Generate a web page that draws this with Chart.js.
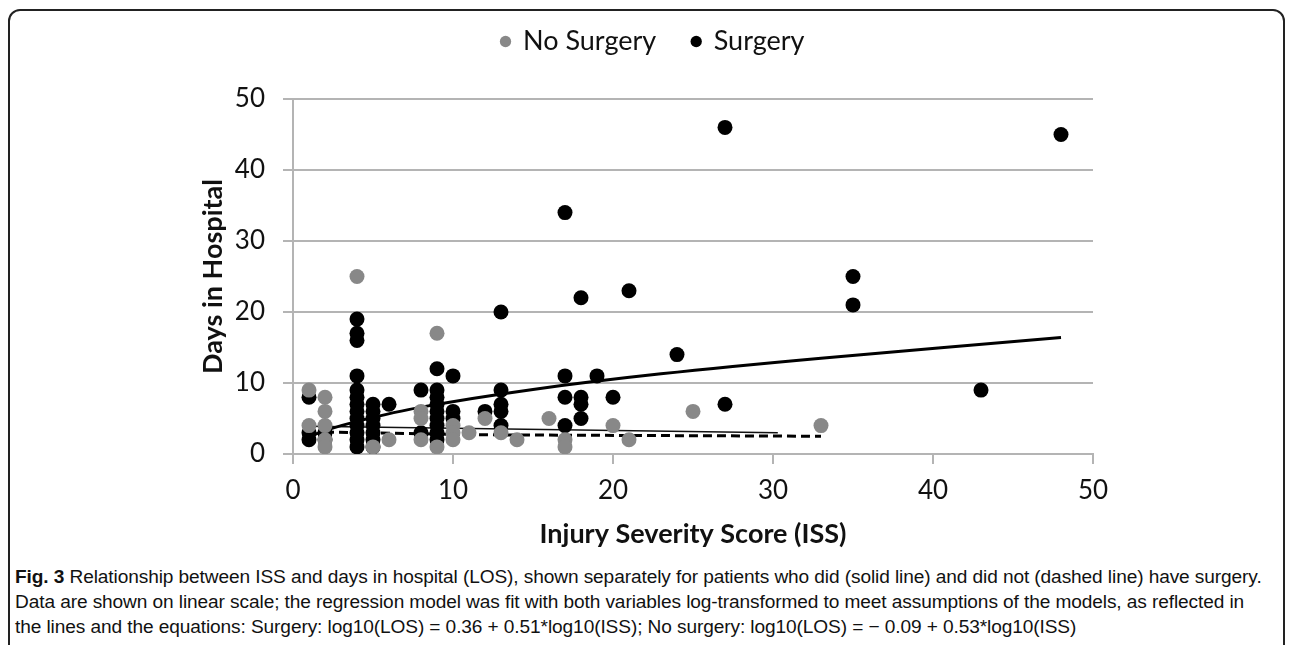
<!DOCTYPE html>
<html>
<head>
<meta charset="utf-8">
<script src="https://cdn.jsdelivr.net/npm/chart.js@4.4.1/dist/chart.umd.min.js"></script>
<style>
  html, body { margin: 0; padding: 0; background: #fff; }
  body { width: 1292px; height: 645px; position: relative; overflow: hidden; }
  #frame {
    position: absolute; left: 8px; top: 9px; width: 1277px; height: 700px;
    border: 2px solid #222; border-radius: 12px; box-sizing: border-box;
  }
  #chart { position: absolute; left: 0; top: 0; }
  #caption {
    position: absolute; left: 15px; top: 564px; width: 1275px;
    font-family: "Liberation Sans", sans-serif; white-space: nowrap;
    font-size: 19.1px; line-height: 25px; color: #111; letter-spacing: -0.1px;
  }
  #caption b { font-weight: bold; }
</style>
</head>
<body>
<div id="frame"></div>
<canvas id="chart" width="1292" height="560"></canvas>
<div id="caption"><b>Fig. 3</b> Relationship between ISS and days in hospital (LOS), shown separately for patients who did (solid line) and did not (dashed line) have surgery.<br>Data are shown on linear scale; the regression model was fit with both variables log-transformed to meet assumptions of the models, as reflected in<br>the lines and the equations: Surgery: log10(LOS) = 0.36 + 0.51*log10(ISS); No surgery: log10(LOS) = &minus; 0.09 + 0.53*log10(ISS)</div>

<script>
// Datos
const xTicks = [0, 10, 20, 30, 40, 50];
const yTicks = [0, 10, 20, 30, 40, 50];

// Sin cirugia (gris)
const noSurgeryIss  = [1, 1, 2, 2, 2, 2, 2, 4, 5, 6, 8, 8, 8, 9, 9, 10, 10, 10, 11, 12, 13, 14, 16, 17, 17, 20, 21, 25, 33];
const noSurgeryDays = [9, 4, 8, 6, 4, 2, 1, 25, 1, 2, 6, 5, 2, 17, 1, 4, 3, 2, 3, 5, 3, 2, 5, 2, 1, 4, 2, 6, 4];

// Con cirugia (negro)
const surgeryIss  = [1, 1, 1, 2, 2,
  4, 4, 4, 4, 4, 4, 4, 4, 4, 4, 4, 4, 4,
  5, 5, 5, 5, 5, 5, 5, 6, 8, 8,
  9, 9, 9, 9, 9, 9, 9, 9, 9,
  10, 10, 10, 12, 13, 13, 13, 13, 13,
  17, 17, 17, 17, 18, 18, 18, 18, 19, 20, 21, 24, 27, 27, 35, 35, 43, 48];
const surgeryDays = [8, 3, 2, 3, 2,
  1, 2, 3, 4, 5, 6, 7, 8, 9, 11, 16, 17, 19,
  1, 2, 3, 4, 5, 6, 7, 7, 9, 3,
  2, 3, 4, 5, 6, 7, 8, 9, 12,
  11, 6, 5, 6, 20, 9, 7, 6, 4,
  34, 11, 8, 4, 22, 8, 7, 5, 11, 8, 23, 14, 46, 7, 25, 21, 9, 45];

// Lineas de regresion
const surgeryFitIss  = [1, 2, 4, 8, 15, 23, 33, 48];
const surgeryFitDays = [2.4, 3.3, 4.6, 6.6, 9.1, 11.3, 13.5, 16.4];
const thinFitIss  = [1, 30.3];
const thinFitDays = [3.9, 3.0];
const dashedFitIss  = [2, 12, 33];
const dashedFitDays = [3.1, 2.7, 2.5];

const toPoints = (xs, ys) => xs.map((x, i) => ({ x: x, y: ys[i] }));

const tickFont = { family: 'Lato', size: 26 };
const legendFont = { family: 'Lato', size: 27 };
const titleFont = { family: 'Lato', size: 27, weight: 'bold' };
const gridColor = '#b4b4b4';

// Ajusta el alto y la posicion de la leyenda
const legendSpacer = {
  id: 'legendSpacer',
  beforeInit(chart) {
    const legend = chart.legend;
    const fit = legend.fit;
    legend.fit = function () {
      fit.bind(legend)();
      this.height = 107;
    };
    const draw = legend.draw;
    legend.draw = function () {
      const ctx = this.ctx;
      ctx.save();
      ctx.translate(10, 0);
      draw.bind(legend)();
      ctx.restore();
    };
  }
};

new Chart(document.getElementById('chart').getContext('2d'), {
  type: 'scatter',
  data: {
    datasets: [
      {
        label: 'No Surgery',
        data: toPoints(noSurgeryIss, noSurgeryDays),
        backgroundColor: '#888888',
        borderWidth: 0,
        pointRadius: 7.5,
        pointStyle: 'circle'
      },
      {
        label: 'Surgery',
        data: toPoints(surgeryIss, surgeryDays),
        backgroundColor: '#000',
        borderWidth: 0,
        pointRadius: 7.5,
        pointStyle: 'circle'
      },
      {
        type: 'line',
        label: 'fit surgery',
        data: toPoints(surgeryFitIss, surgeryFitDays),
        borderColor: '#000',
        borderWidth: 3,
        pointRadius: 0,
        tension: 0.3,
        fill: false
      },
      {
        type: 'line',
        label: 'fit thin',
        data: toPoints(thinFitIss, thinFitDays),
        borderColor: '#111',
        borderWidth: 1.5,
        pointRadius: 0,
        fill: false
      },
      {
        type: 'line',
        label: 'fit no surgery',
        data: toPoints(dashedFitIss, dashedFitDays),
        borderColor: '#000',
        borderWidth: 3,
        borderDash: [9, 5],
        pointRadius: 0,
        fill: false
      }
    ]
  },
  options: {
    responsive: false,
    devicePixelRatio: 1,
    animation: false,
    layout: { padding: { left: 193, right: 199, top: -8, bottom: 6 } },
    plugins: {
      tooltip: { enabled: false },
      legend: {
        position: 'top',
        labels: {
          usePointStyle: true,
          boxWidth: 8,
          boxHeight: 8,
          padding: 36,
          color: '#111',
          font: legendFont,
          filter: item => item.datasetIndex < 2
        }
      }
    },
    scales: {
      x: {
        type: 'linear',
        min: 0,
        max: 50,
        afterBuildTicks: scale => { scale.ticks = xTicks.map(v => ({ value: v })); },
        afterFit: scale => { scale.height = 100; },
        grid: { drawOnChartArea: false, drawTicks: true, tickLength: 10, color: gridColor, lineWidth: 2 },
        border: { display: true, color: gridColor, width: 2 },
        ticks: { color: '#111', font: tickFont, padding: 11 },
        title: { display: true, text: 'Injury Severity Score (ISS)', color: '#111', font: titleFont }
      },
      y: {
        type: 'linear',
        min: 0,
        max: 50,
        afterBuildTicks: scale => { scale.ticks = yTicks.map(v => ({ value: v })); },
        afterFit: scale => { scale.width = 100; },
        grid: { drawTicks: true, tickLength: 10, color: gridColor, lineWidth: 2 },
        border: { display: true, color: gridColor, width: 2 },
        ticks: { color: '#111', font: tickFont, padding: 18 },
        title: { display: true, text: 'Days in Hospital', color: '#111', font: titleFont }
      }
    }
  },
  plugins: [legendSpacer]
});
</script>
</body>
</html>
